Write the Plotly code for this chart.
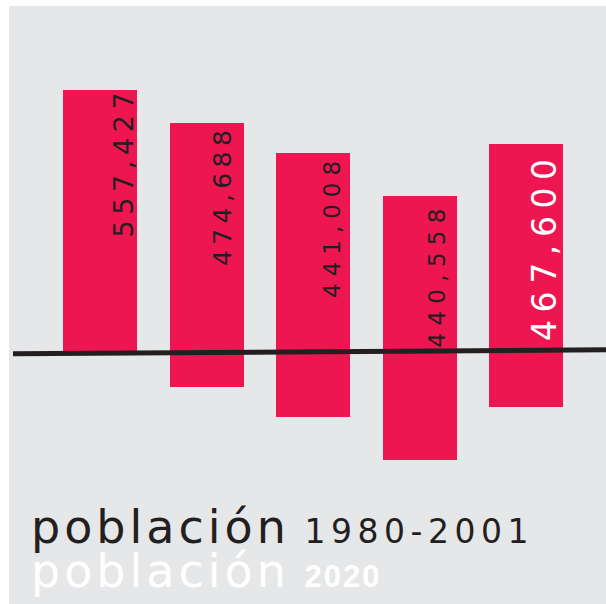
import plotly.graph_objects as go

# ---- data ----
categorias = ["A", "B", "C", "D", "E"]
etiquetas = ["557,427", "474,688", "441,008", "440,558", "467,600"]
extremo_sup = [263, 230, 200, 157, 209]     # extent above the baseline
extremo_inf = [0, -34, -64, -107, -54]      # extent below the baseline
titulo_1 = "población"
periodo_1 = "1980-2001"
titulo_2 = "población"
periodo_2 = "2020"

# ---- styles ----
ROSA = "#ee1651"
GRIS = "#e6e7e8"
NEGRO = "#231f20"
etq_colores = [NEGRO, NEGRO, NEGRO, NEGRO, "#ffffff"]
etq_tamanos = [27, 25, 23, 23, 33]
etq_espacio = [5.6, 5.4, 7.0, 7.3, 7.6]
etq_xshift = [23, 16, 19, 17, 18]
etq_yshift = [5, 0, 1, -4, -5]

W, H = 606, 604
GX0, GY0 = 9, 6          # page position of the grey panel's top-left corner
paso = 106.5
centro0 = 100
BASE_Y = 353             # page y of the zero level

alturas = [s - i for s, i in zip(extremo_sup, extremo_inf)]

fig = go.Figure()
fig.add_trace(go.Bar(
    x=categorias, y=alturas, base=extremo_inf,
    width=74 / paso, marker=dict(color=ROSA, line=dict(width=0)),
    hoverinfo="skip", showlegend=False,
))

anns = []
for i, c in enumerate(categorias):
    anns.append(dict(
        x=c, y=extremo_sup[i], xref="x", yref="y",
        text=f'<span style="letter-spacing:{etq_espacio[i]}px">{etiquetas[i]}</span>',
        textangle=-90, showarrow=False, xanchor="center", yanchor="top",
        xshift=etq_xshift[i], yshift=etq_yshift[i],
        font=dict(family="DejaVu Sans", size=etq_tamanos[i], color=etq_colores[i]),
    ))

def px_x(px):
    return (px - GX0) / (W - GX0)

def px_y(py):
    return (H - py) / (H - GY0)

anns.append(dict(
    x=px_x(29), y=px_y(556), xref="paper", yref="paper",
    xanchor="left", yanchor="bottom", showarrow=False,
    text=(f'<span style="letter-spacing:4px">{titulo_1}</span> '
          f'<span style="font-size:33px;letter-spacing:5.5px">{periodo_1}</span>'),
    font=dict(family="DejaVu Sans", size=46, color=NEGRO),
))
anns.append(dict(
    x=px_x(29), y=px_y(600), xref="paper", yref="paper",
    xanchor="left", yanchor="bottom", showarrow=False,
    text=(f'<span style="letter-spacing:4px">{titulo_2}</span> '
          f'<span style="font-family:Liberation Sans;font-weight:bold;font-size:31px;letter-spacing:2px">{periodo_2}</span>'),
    font=dict(family="DejaVu Sans", size=46, color="#ffffff"),
))

fig.update_layout(
    width=W, height=H,
    margin=dict(l=GX0, r=0, t=GY0, b=0, pad=0),
    paper_bgcolor="#ffffff", plot_bgcolor=GRIS,
    xaxis=dict(type="category", range=[(GX0 - centro0) / paso, (W - centro0) / paso],
               visible=False, fixedrange=True),
    yaxis=dict(range=[BASE_Y - H, BASE_Y - GY0], visible=False, fixedrange=True),
    annotations=anns,
    shapes=[dict(type="line", xref="paper", yref="y",
                 x0=px_x(13), x1=1, y0=BASE_Y - 353.8, y1=BASE_Y - 349.8,
                 line=dict(color=NEGRO, width=5), layer="above")],
    bargap=0,
    hovermode=False,
)

fig.write_html(
    "out.html",
    config={"displayModeBar": False, "staticPlot": True},
    post_script="document.body.style.margin='0';document.body.style.overflow='hidden';",
)
